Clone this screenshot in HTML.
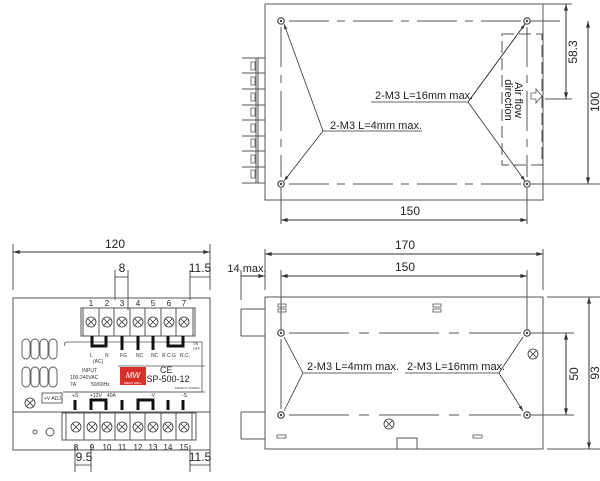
<!DOCTYPE html>
<html><head><meta charset="utf-8"><style>
html,body{margin:0;padding:0;background:#fff;}
svg{display:block;font-family:"Liberation Sans",Arial,sans-serif;}
</style></head><body>
<svg width="600" height="481" viewBox="0 0 600 481" xmlns="http://www.w3.org/2000/svg">
<defs>
<marker id="a" viewBox="0 0 10 6" refX="10" refY="3" markerWidth="7" markerHeight="4" orient="auto-start-reverse"><path d="M0,0 L10,3 L0,6z" fill="#333"/></marker>
<g id="hole"><circle r="3.2" fill="none" stroke="#444" stroke-width="1.2"/><circle r="1.2" fill="#444"/></g>
<g id="scr"><circle r="5" fill="#fff" stroke="#333" stroke-width="0.8"/><path d="M-3.5,-3.5L3.5,3.5M3.5,-3.5L-3.5,3.5" stroke="#333" stroke-width="0.8"/></g>
</defs>
<g stroke="#555" stroke-width="1" fill="none">
<!-- TOP VIEW -->
<rect x="265" y="4" width="278" height="196"/>
<path d="M289,21 H521 M289,184 H521 M281,27 V177 M527,27 V177" stroke-dasharray="40,8,8,8"/>
<path d="M531,21 H560 M531,184 H600"/>
<rect x="502" y="34" width="40" height="131" stroke-dasharray="12,5"/>
<path d="M242,58H265M242,73H265M242,89H265M242,105H265M242,120H265M242,136H265M242,151H265M242,167H265M242,183H265"/>
<path d="M256,58V183M258,58V183"/>
<g stroke-width="0.8"><path d="M251,62h4v8h-4zM251,77h4v8h-4zM251,93h4v8h-4zM251,108h4v8h-4zM251,124h4v8h-4zM251,139h4v8h-4zM251,155h4v8h-4zM251,170h4v8h-4z"/></g>
<path d="M371,102H468L525,24M468,102L525,181" stroke="#333" stroke-width="0.8" marker-end="url(#a)"/>
<path d="M468,102L525,24" stroke="#333" stroke-width="0.8" marker-end="url(#a)"/>
<path d="M422,131H323L284,24" stroke="#333" stroke-width="0.8" marker-end="url(#a)"/>
<path d="M323,131L284,181" stroke="#333" stroke-width="0.8" marker-end="url(#a)"/>
<path d="M543,4H572M545,99H572"/>
<path d="M566,4V99" stroke="#333" marker-start="url(#a)" marker-end="url(#a)"/>
<path d="M588,21V184" stroke="#333" marker-start="url(#a)" marker-end="url(#a)"/>
<path d="M281,188V224M527,188V224"/>
<path d="M281,220H527" stroke="#333" marker-start="url(#a)" marker-end="url(#a)"/>
<path d="M531,93h5v-4l6,7l-6,7v-4h-5z" stroke-width="0.8"/>

<!-- BOTTOM RIGHT VIEW -->
<rect x="265" y="297" width="278" height="152"/>
<path d="M241,309H265M241,336H265M241,309V336M241,412H265M241,439H265M241,412V439"/>
<path d="M289,333H521M289,415H521" stroke-dasharray="60,10,10,10"/>
<path d="M281,339V409"/>
<path d="M531,333H574M531,415H574M547,297H600M547,449H600"/>
<path d="M265,249V290M543,249V290M281,270V330M527,270V330M241,270V300"/>
<path d="M265,254H543" stroke="#333" marker-start="url(#a)" marker-end="url(#a)"/>
<path d="M281,276H527" stroke="#333" marker-start="url(#a)" marker-end="url(#a)"/>
<path d="M241,276H265" stroke="#333" marker-end="url(#a)"/>
<path d="M566,333V415" stroke="#333" marker-start="url(#a)" marker-end="url(#a)"/>
<path d="M589,297V449" stroke="#333" marker-start="url(#a)" marker-end="url(#a)"/>
<path d="M303,373H392M405,373H499" stroke="#333" stroke-width="0.8"/>
<path d="M303,373L284,337M303,373L284,411M499,373L523,337M499,373L523,411" stroke="#333" stroke-width="0.8" marker-end="url(#a)"/>
<g stroke-width="0.8"><rect x="278" y="304" width="8" height="3"/><rect x="278" y="309" width="8" height="3"/><rect x="433" y="304" width="8" height="3"/><rect x="433" y="309" width="8" height="3"/><rect x="277" y="435" width="9" height="3"/><rect x="473" y="435" width="9" height="3"/></g>
<path d="M397,449V438H417V449"/>

<!-- LEFT VIEW -->
<rect x="13" y="298" width="197" height="152"/>
<path d="M13,412H210"/>
<rect x="81" y="308" width="114" height="28"/>
<path d="M83,308V336M193,308V336"/>
<path d="M99,308V336M114,308V336M130,308V336M145,308V336M161,308V336M176,308V336"/>
<rect x="62" y="413" width="134" height="27"/>
<path d="M66,413V440M192,413V440M84,413V440M100,413V440M115,413V440M130,413V440M145,413V440M161,413V440M176,413V440"/>
<path d="M65,346Q63,342 68,342H202V392H65" stroke-width="0.8"/>
<path d="M118,366H205" stroke-width="0.8"/>
<path d="M63,392H205" stroke-width="0.8"/>
<g stroke-width="0.9">
<rect x="22" y="339" width="8" height="20" rx="4"/><rect x="31" y="339" width="8" height="20" rx="4"/><rect x="40" y="339" width="8" height="20" rx="4"/><rect x="49" y="339" width="8" height="20" rx="4"/>
<rect x="22" y="367" width="8" height="20" rx="4"/><rect x="31" y="367" width="8" height="20" rx="4"/><rect x="40" y="367" width="8" height="20" rx="4"/><rect x="49" y="367" width="8" height="20" rx="4"/>
<rect x="42" y="393" width="20" height="10"/>
</g>
<circle cx="35" cy="432" r="2"/><circle cx="50" cy="432" r="4"/>
<path d="M13,244V290M210,244V290M115,270V300M128,270V310M190,270V300"/>
<path d="M13,252H210" stroke="#333" marker-start="url(#a)" marker-end="url(#a)"/>
<path d="M115,277H128" stroke="#333" stroke-width="0.8"/>
<path d="M190,277H210" stroke="#333" stroke-width="0.8"/>
<path d="M75,445V472M91,445V472M190,445V472M210,445V472"/>
<path d="M75,465H91M190,465H210" stroke="#333" stroke-width="0.8"/>
</g>
<g fill="none" stroke="#111" stroke-width="3">
<path d="M92,336V346H106V336"/><path d="M122,336V350M138,336V350M153,336V350"/><path d="M168,336V346H183V336"/>
<path d="M75,410V400M91,410V400H106V410M122,400V410M138,410V400H153V410M168,400V410M183,410V400"/>
</g>
<g fill="#fff">
<use href="#hole" x="281" y="21"/><use href="#hole" x="527" y="21"/><use href="#hole" x="281" y="184"/><use href="#hole" x="527" y="184"/>
<use href="#hole" x="281" y="333"/><use href="#hole" x="527" y="333"/><use href="#hole" x="281" y="415"/><use href="#hole" x="527" y="415"/>
<use href="#scr" x="91" y="322"/><use href="#scr" x="107" y="322"/><use href="#scr" x="122" y="322"/><use href="#scr" x="138" y="322"/><use href="#scr" x="153" y="322"/><use href="#scr" x="169" y="322"/><use href="#scr" x="184" y="322"/>
<use href="#scr" x="76" y="427"/><use href="#scr" x="92" y="427"/><use href="#scr" x="107" y="427"/><use href="#scr" x="122" y="427"/><use href="#scr" x="138" y="427"/><use href="#scr" x="153" y="427"/><use href="#scr" x="168" y="427"/><use href="#scr" x="184" y="427"/>
<use href="#scr" x="30" y="403"/><use href="#scr" x="533" y="354"/><use href="#scr" x="389" y="424"/>
</g>
<rect x="120" y="367" width="26" height="18" fill="#d9302c"/>
<text x="133" y="378" font-size="8" fill="#fff" font-style="italic" text-anchor="middle">MW</text>
<text x="133" y="384" font-size="3" fill="#fff" text-anchor="middle">MEAN WELL</text>
<g fill="#222" font-size="12" text-anchor="middle">
<text x="410" y="215">150</text>
<text x="115" y="248">120</text>
<text x="405" y="249">170</text>
<text x="405" y="271">150</text>
<text x="122" y="272">8</text>
<text x="200" y="272">11.5</text>
<text x="84" y="461">9.5</text>
<text x="200" y="461">11.5</text>
<text x="247" y="272" font-size="11">14 max.</text>
<text transform="translate(577,52) rotate(-90)">58.3</text>
<text transform="translate(599,102) rotate(-90)">100</text>
<text transform="translate(578,374) rotate(-90)">50</text>
<text transform="translate(599,373) rotate(-90)">93</text>
<text transform="translate(515,100) rotate(90)" font-size="11">Air flow</text>
<text transform="translate(505,100) rotate(90)" font-size="11">direction</text>
</g>
<g fill="#222" font-size="11">
<text x="375" y="99">2-M3 L=16mm max.</text>
<text x="330" y="129">2-M3 L=4mm max.</text>
<text x="307" y="370">2-M3 L=4mm max.</text>
<text x="407" y="370">2-M3 L=16mm max.</text>
</g>
<g fill="#222" font-size="8" text-anchor="middle">
<text x="91" y="306">1</text><text x="107" y="306">2</text><text x="122" y="306">3</text><text x="138" y="306">4</text><text x="153" y="306">5</text><text x="169" y="306">6</text><text x="184" y="306">7</text>
<text x="76" y="450">8</text><text x="92" y="450">9</text><text x="107" y="450">10</text><text x="122" y="450">11</text><text x="138" y="450">12</text><text x="153" y="450">13</text><text x="168" y="450">14</text><text x="184" y="450">15</text>
<text x="168" y="382" font-size="9">SP-500-12</text>
</g>
<g fill="#333" font-size="5">
<text x="90" y="357">L</text><text x="105" y="357">N</text><text x="93" y="363">(AC)</text>
<text x="120" y="357">FG</text><text x="136" y="357">NC</text><text x="151" y="357">NC</text><text x="162" y="357">R.C.G</text><text x="180" y="357">R.C.</text>
<text x="82" y="372">INPUT</text><text x="70" y="379">100-240VAC</text><text x="70" y="386">7A</text><text x="91" y="386">50/60Hz</text>
<text x="72" y="397">+S</text><text x="90" y="397">+12V</text><text x="107" y="397">40A</text><text x="150" y="397">-V</text><text x="182" y="397">-S</text>
<text x="44" y="400">+V ADJ.</text>
<text x="160" y="373" font-size="9">CE</text>
<text x="175" y="389" font-size="3">MADE IN TAIWAN</text>
<text x="193" y="345" font-size="3.5">ON</text><text x="193" y="350" font-size="3.5">OFF</text>
</g>
</svg>
</body></html>
